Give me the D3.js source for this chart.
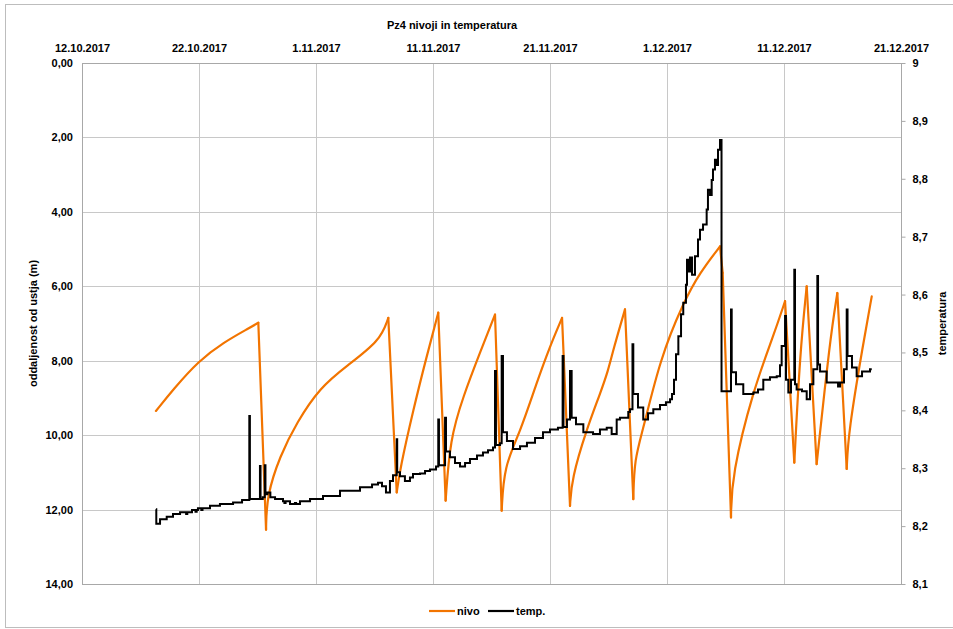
<!DOCTYPE html>
<html>
<head>
<meta charset="utf-8">
<script src="https://cdn.jsdelivr.net/npm/d3@7"></script>
<style>
	body { margin: 0; background: #fff; }
	svg { display: block; font-family: "Liberation Sans", Arial, sans-serif; }
	.lbl { font-size: 11px; font-weight: bold; fill: #000; }
</style>
</head>
<body>
<script>
// day offsets from 12.10.2017
const nivo = [
	[6.32, 9.35], [7.80, 8.77], [9.94, 8.01], [12.08, 7.51], [14.36, 7.11], [15.07, 6.98],
	[15.73, 12.54], [15.79, 11.63], [16.92, 10.56], [18.35, 9.66], [20.34, 8.72], [22.62, 8.14], [25.47, 7.47], [26.18, 6.85],
	[26.90, 11.54], [27.18, 10.91], [28.32, 9.31], [29.46, 7.88], [30.45, 6.71],
	[31.08, 11.76], [31.45, 10.11], [32.59, 8.95], [34.02, 7.78], [35.30, 6.76],
	[35.87, 12.03], [36.07, 10.83], [37.44, 9.93], [38.86, 8.59], [40.0, 7.61], [41.03, 6.85],
	[41.71, 11.90], [41.85, 11.18], [43.13, 9.84], [44.27, 8.90], [44.98, 8.26], [45.41, 7.70], [46.41, 6.62],
	[47.12, 11.72], [47.21, 10.65], [47.97, 9.84], [49.40, 7.96], [51.39, 6.44], [52.82, 5.63], [54.53, 4.93],
	[54.76, 5.64], [55.47, 12.21], [55.53, 11.09], [57.38, 8.77], [59.09, 7.34], [60.09, 6.40],
	[60.88, 10.74], [61.37, 7.78], [61.94, 6.00],
	[62.79, 10.78], [63.93, 7.43], [64.56, 6.18],
	[65.36, 10.91], [65.50, 9.93], [66.78, 7.52], [67.50, 6.27]
];

const temp = [
	[6.32, 8.229], [6.35, 8.204], [6.67, 8.212], [7.24, 8.216], [7.78, 8.221], [8.38, 8.224], [8.9, 8.221], [9.0, 8.224],
	[9.40, 8.228], [9.7, 8.225], [9.8, 8.228], [9.91, 8.231], [10.2, 8.228], [10.3, 8.231], [10.94, 8.235], [11.79, 8.238],
	[12.91, 8.241], [13.68, 8.245], [14.30, 8.390], [14.35, 8.247], [15.21, 8.304], [15.26, 8.247], [15.45, 8.250],
	[15.62, 8.305], [15.68, 8.255], [15.85, 8.258], [16.1, 8.250], [16.5, 8.247], [17.18, 8.243], [17.3, 8.240],
	[17.4, 8.243], [17.78, 8.238], [18.2, 8.240], [18.3, 8.238], [18.63, 8.243], [19.49, 8.247], [20.60, 8.252],
	[22.05, 8.261], [23.76, 8.267], [24.79, 8.272], [25.30, 8.275], [25.64, 8.269], [25.98, 8.258], [26.32, 8.278],
	[26.58, 8.288], [26.9, 8.35], [26.94, 8.293], [27.18, 8.286], [27.6, 8.278], [28.03, 8.284], [28.29, 8.290],
	[28.89, 8.291], [29.32, 8.295], [29.74, 8.298], [30.26, 8.303], [30.45, 8.384], [30.51, 8.305], [31.03, 8.387],
	[31.11, 8.329], [31.45, 8.319], [31.88, 8.309], [32.31, 8.303], [32.74, 8.309], [33.16, 8.316], [33.76, 8.322],
	[34.27, 8.327], [34.70, 8.331], [35.13, 8.336], [35.30, 8.468], [35.38, 8.340], [35.73, 8.343], [35.87, 8.494],
	[35.98, 8.362], [36.32, 8.347], [36.84, 8.333], [37.44, 8.338], [38.03, 8.344], [38.72, 8.352], [39.40, 8.362],
	[40.0, 8.367], [40.68, 8.370], [41.08, 8.494], [41.15, 8.371], [41.45, 8.384], [41.71, 8.468], [41.85, 8.387],
	[42.22, 8.376], [42.85, 8.362], [43.68, 8.359], [44.27, 8.367], [44.85, 8.370], [45.27, 8.359], [45.70, 8.384],
	[45.98, 8.387], [46.69, 8.397], [46.84, 8.402], [47.05, 8.514], [47.12, 8.428], [47.52, 8.405], [47.97, 8.384],
	[48.38, 8.395], [48.83, 8.402], [49.40, 8.409], [49.91, 8.414], [50.26, 8.419], [50.43, 8.428], [50.60, 8.453],
	[50.77, 8.497], [50.97, 8.528], [51.20, 8.566], [51.39, 8.586], [51.62, 8.617], [51.71, 8.660], [51.82, 8.640],
	[51.97, 8.664], [52.14, 8.634], [52.39, 8.666], [52.65, 8.695], [52.82, 8.712], [53.08, 8.721], [53.39, 8.747],
	[53.5, 8.781], [53.68, 8.772], [53.82, 8.798], [53.93, 8.816], [54.1, 8.833], [54.25, 8.824], [54.36, 8.850],
	[54.53, 8.867], [54.66, 8.433], [55.10, 8.433], [55.47, 8.574], [55.53, 8.466], [55.90, 8.445], [56.52, 8.428],
	[57.38, 8.431], [57.78, 8.436], [58.23, 8.453], [58.80, 8.457], [59.38, 8.459], [59.66, 8.478], [59.80, 8.511],
	[60.09, 8.563], [60.17, 8.453], [60.37, 8.431], [60.60, 8.453], [60.88, 8.643], [60.94, 8.445], [61.08, 8.436],
	[61.54, 8.433], [61.94, 8.419], [62.22, 8.445], [62.51, 8.471], [62.85, 8.632], [62.91, 8.479], [63.08, 8.467],
	[63.65, 8.448], [64.36, 8.448], [64.62, 8.441], [64.79, 8.448], [65.13, 8.471], [65.36, 8.574], [65.43, 8.494],
	[65.81, 8.474], [66.21, 8.459], [66.67, 8.467], [67.35, 8.471], [67.5, 8.471]
];

const startDate = Date.UTC(2017, 9, 12);
const dateTicks = [0, 10, 20, 30, 40, 50, 60, 70];
const depthTicks = [0, 2, 4, 6, 8, 10, 12, 14];
const tempTicks = [8.1, 8.2, 8.3, 8.4, 8.5, 8.6, 8.7, 8.8, 8.9, 9];

const W = 953, H = 629;
const m = { left: 82, top: 63, right: 901, bottom: 584 };

const toDate = d => new Date(startDate + d * 864e5);

const x = d3.scaleUtc()
	.domain([toDate(0), toDate(70)])
	.range([m.left, m.right]);
const y = d3.scaleLinear().domain([0, 14]).range([m.top, m.bottom]);
const y2 = d3.scaleLinear().domain([8.1, 9]).range([m.bottom, m.top]);

const svg = d3.select("body").append("svg")
	.attr("width", W)
	.attr("height", H);

// outer chart border
svg.append("rect")
	.attr("x", 5.5).attr("y", 4.5)
	.attr("width", 960).attr("height", 623)
	.attr("fill", "none")
	.attr("stroke", "#bdbdbd");

// grid
const grid = svg.append("g").attr("stroke", "#c8c8c8").attr("stroke-width", 1);
grid.selectAll(".gx")
	.data(dateTicks.slice(1, -1))
	.join("line")
	.attr("x1", d => Math.round(x(toDate(d))) + 0.5)
	.attr("x2", d => Math.round(x(toDate(d))) + 0.5)
	.attr("y1", m.top).attr("y2", m.bottom);
grid.selectAll(".gy")
	.data(depthTicks.slice(1, -1))
	.join("line")
	.attr("x1", m.left).attr("x2", m.right)
	.attr("y1", d => Math.round(y(d)) + 0.5)
	.attr("y2", d => Math.round(y(d)) + 0.5);

// plot frame
svg.append("rect")
	.attr("x", m.left + 0.5).attr("y", m.top + 0.5)
	.attr("width", m.right - m.left).attr("height", m.bottom - m.top)
	.attr("fill", "none")
	.attr("stroke", "#a8a8a8");

// top date axis
const xAxis = d3.axisTop(x)
	.tickValues(dateTicks.map(toDate))
	.tickFormat(d3.utcFormat("%-d.%-m.%Y"))
	.tickSize(0)
	.tickPadding(11);
svg.append("g")
	.attr("transform", `translate(0,${m.top})`)
	.call(xAxis)
	.call(g => g.select(".domain").remove())
	.call(g => g.selectAll("text").attr("class", "lbl"));

// left depth axis
const fmt2 = d => d3.format(".2f")(d).replace(".", ",");
svg.append("g")
	.attr("transform", `translate(${m.left},0)`)
	.call(d3.axisLeft(y).tickValues(depthTicks).tickFormat(fmt2).tickSize(0).tickPadding(9))
	.call(g => g.select(".domain").remove())
	.call(g => g.selectAll("text").attr("class", "lbl"));

// right temperature axis
svg.append("g")
	.attr("transform", `translate(${m.right + 0.5},0)`)
	.call(d3.axisRight(y2).tickValues(tempTicks).tickFormat(d => String(d).replace(".", ",")).tickSize(4).tickPadding(7))
	.call(g => g.select(".domain").remove())
	.call(g => g.selectAll("line").attr("stroke", "#a8a8a8"))
	.call(g => g.selectAll("text").attr("class", "lbl"));

// titles
svg.append("text").attr("class", "lbl")
	.attr("x", 452).attr("y", 29)
	.attr("text-anchor", "middle")
	.text("Pz4 nivoji in temperatura");
svg.append("text").attr("class", "lbl")
	.attr("transform", `translate(37,${(m.top + m.bottom) / 2}) rotate(-90)`)
	.attr("text-anchor", "middle")
	.text("oddaljenost od ustja (m)");
svg.append("text").attr("class", "lbl")
	.attr("transform", `translate(946,${(m.top + m.bottom) / 2}) rotate(-90)`)
	.attr("text-anchor", "middle")
	.text("temperatura");

const orange = "#f27400";

// nivo: smooth rising runs, straight drops
const runs = [];
let cur = [nivo[0]];
for (let i = 1; i < nivo.length; i++) {
	const rising = nivo[i][1] < nivo[i - 1][1];
	if (rising) {
		cur.push(nivo[i]);
	} else {
		if (cur.length > 1) runs.push({ pts: cur, smooth: true });
		runs.push({ pts: [nivo[i - 1], nivo[i]], smooth: false });
		cur = [nivo[i]];
	}
}
if (cur.length > 1) runs.push({ pts: cur, smooth: true });

const smoothLine = d3.line().x(d => x(toDate(d[0]))).y(d => y(d[1])).curve(d3.curveBasis);
const straightLine = d3.line().x(d => x(toDate(d[0]))).y(d => y(d[1]));

svg.append("g")
	.attr("fill", "none")
	.attr("stroke", orange)
	.attr("stroke-width", 2.2)
	.attr("stroke-linecap", "round")
	.attr("stroke-linejoin", "round")
	.selectAll("path")
	.data(runs)
	.join("path")
	.attr("d", r => (r.smooth ? smoothLine : straightLine)(r.pts));

// temperature stair line
const tempLine = d3.line()
	.x(d => x(toDate(d[0])))
	.y(d => y2(d[1]))
	.curve(d3.curveStepAfter);
svg.append("path")
	.datum(temp)
	.attr("fill", "none")
	.attr("stroke", "#000")
	.attr("stroke-width", 2)
	.attr("d", tempLine);

// legend
const legend = svg.append("g").attr("transform", "translate(0,611)");
[
	{ name: "nivo", color: orange, x0: 429 },
	{ name: "temp.", color: "#000", x0: 488 }
].forEach(l => {
	legend.append("line")
		.attr("x1", l.x0).attr("x2", l.x0 + 26)
		.attr("stroke", l.color).attr("stroke-width", 2.2);
	legend.append("text").attr("class", "lbl")
		.attr("x", l.x0 + 28).attr("y", 4)
		.text(l.name);
});
</script>
</body>
</html>
